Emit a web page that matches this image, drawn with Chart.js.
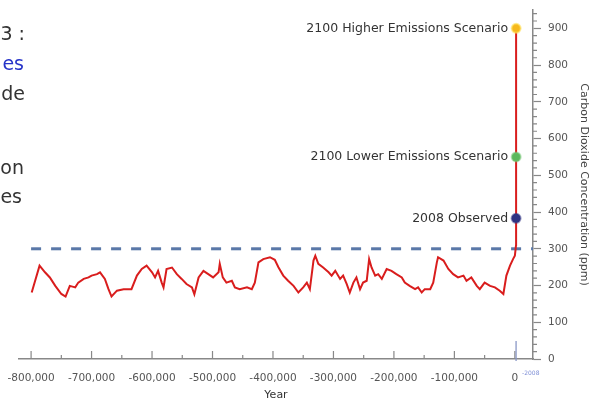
<!DOCTYPE html>
<html lang="en">
<head>
<meta charset="UTF-8">
<title>Carbon Dioxide Concentration</title>
<script src="https://cdn.jsdelivr.net/npm/chart.js"></script>
<style>
  html, body { margin: 0; padding: 0; background: #fff; overflow: hidden; }
  #wrap { position: relative; width: 590px; height: 402px; }
  #co2Chart { position: absolute; left: 0; top: 0; }
  .side { position: absolute; white-space: nowrap; font-family: "DejaVu Sans", sans-serif; font-size: 19px; line-height: 24px; color: #333; }
  .side.link { color: #2633c8; }
</style>
</head>
<body>
<div id="wrap">
  <canvas id="co2Chart" width="590" height="402"></canvas>
  <div class="side" style="top:21px; right:565px;">3 :</div>
  <div class="side link" style="top:51px; right:566px;">es</div>
  <div class="side" style="top:81px; right:565px;">de</div>
  <div class="side" style="top:155px; right:566px;">on</div>
  <div class="side" style="top:184px; right:568px;">es</div>
</div>
<script>
// ice core record (years relative to present, ppm), then the modern jump
const co2Years = [
  -799000, -786000, -777000, -769000, -760000, -750000, -743000, -736000, -727000, -722000,
  -713000, -705000, -700000, -691000, -686000, -678000, -672000, -667000, -658000, -647000,
  -634000, -625000, -617000, -609000, -600000, -595000, -590000, -584000, -581000, -576000,
  -567000, -559000, -551000, -543000, -534000, -530000, -523000, -515000, -507000, -499000,
  -490000, -488000, -483000, -477000, -468000, -463000, -455000, -443000, -435000, -430000,
  -424000, -416000, -405000, -397000, -391000, -383000, -375000, -366000, -358000, -350000,
  -344000, -339000, -333000, -330000, -325000, -317000, -308000, -303000, -297000, -289000,
  -284000, -278000, -273000, -267000, -262000, -256000, -251000, -245000, -241000, -237000,
  -231000, -226000, -220000, -212000, -204000, -196000, -187000, -182000, -174000, -165000,
  -160000, -154000, -149000, -140000, -135000, -129000, -127000, -118000, -110000, -102000,
  -94000, -85000, -80000, -72000, -63000, -58000, -50000, -41000, -33000, -25000,
  -19000, -14000, -8000, -3000, 0, 1950, 2008, 2100
];
const co2Values = [
  181, 254, 236, 222, 199, 177, 170, 199, 195, 208,
  218, 222, 227, 231, 236, 218, 190, 170, 186, 190,
  190, 227, 245, 254, 236, 222, 240, 208, 195, 245,
  249, 231, 218, 204, 195, 176, 222, 240, 231, 222,
  236, 259, 222, 208, 213, 195, 190, 195, 190, 208,
  263, 272, 277, 270, 250, 227, 213, 199, 181, 195,
  208, 190, 268, 281, 259, 249, 236, 227, 240, 218,
  227, 204, 181, 208, 222, 190, 208, 213, 272, 249,
  227, 231, 218, 245, 240, 231, 222, 208, 199, 190,
  195, 181, 190, 190, 208, 263, 277, 268, 245, 231,
  222, 227, 213, 222, 199, 190, 208, 199, 195, 186,
  177, 227, 254, 272, 281, 310, 383, 900
];

// "never above this line" level
const thresholdYears = [-800000, 30000];
const thresholdValues = [300, 300];

// highlighted points
const scenarioLabels = ['2008 Observed', '2100 Lower Emissions Scenario', '2100 Higher Emissions Scenario'];
const scenarioYears = [2008, 2100, 2100];
const scenarioValues = [383, 550, 900];
const scenarioColors = ['#2f3483', '#5cb85c', '#f6b81c'];
const scenarioHalos = ['rgba(47,52,131,0.5)', 'rgba(120,200,120,0.5)', 'rgba(255,225,90,0.6)'];

// axis ticks
const xTickValues = [-800000, -700000, -600000, -500000, -400000, -300000, -200000, -100000, 0];
const yTickValues = [0, 100, 200, 300, 400, 500, 600, 700, 800, 900];

const FONT = '"DejaVu Sans", sans-serif';

const toPoints = (xs, ys) => xs.map((x, i) => ({ x: x, y: ys[i] }));

// extra tick marks and the point captions
const decorations = {
    id: 'decorations',
    afterDraw(chart) {
        const ctx = chart.ctx;
        const x = chart.scales.x;
        const y = chart.scales.y;
        ctx.save();

        // x ticks point up into the plot
        ctx.strokeStyle = '#888';
        ctx.lineWidth = 1.2;
        ctx.beginPath();
        for (let v = -800000; v <= 0; v += 50000) {
            const px = x.getPixelForValue(v);
            const len = v % 100000 === 0 ? 8 : 4;
            ctx.moveTo(px, x.top);
            ctx.lineTo(px, x.top - len);
        }
        // y minor ticks
        for (let v = 20; v <= 940; v += 20) {
            if (v % 100 === 0) continue;
            const py = y.getPixelForValue(v);
            ctx.moveTo(y.left, py);
            ctx.lineTo(y.left + 4, py);
        }
        ctx.stroke();

        // 2008 marker under the zero label
        const mx = x.getPixelForValue(2008);
        ctx.strokeStyle = '#8a97c6';
        ctx.lineWidth = 1.3;
        ctx.beginPath();
        ctx.moveTo(mx, x.top - 18);
        ctx.lineTo(mx, x.top + 2);
        ctx.stroke();
        ctx.fillStyle = '#7f8fd6';
        ctx.font = '6px ' + FONT;
        ctx.textAlign = 'left';
        ctx.textBaseline = 'middle';
        ctx.fillText('-2008', mx + 6, x.top + 14);

        // captions left of the highlighted points
        const meta = chart.getDatasetMeta(2);
        ctx.fillStyle = '#333';
        ctx.font = '12.5px ' + FONT;
        ctx.textAlign = 'right';
        meta.data.forEach((pt, i) => {
            ctx.fillText(scenarioLabels[i], pt.x - 8, pt.y);
        });
        ctx.restore();
    }
};

new Chart(document.getElementById('co2Chart').getContext('2d'), {
    type: 'line',
    data: {
        datasets: [
            {
                label: 'CO2',
                data: toPoints(co2Years, co2Values),
                borderColor: '#d91d1d',
                borderWidth: 2,
                pointRadius: 0,
                tension: 0,
                order: 1
            },
            {
                label: 'Threshold',
                data: toPoints(thresholdYears, thresholdValues),
                borderColor: '#5a78a8',
                borderWidth: 3,
                borderDash: [10, 10],
                pointRadius: 0,
                order: 2
            },
            {
                label: 'Scenarios',
                data: toPoints(scenarioYears, scenarioValues),
                showLine: false,
                pointRadius: 4.5,
                pointBackgroundColor: scenarioColors,
                pointBorderColor: scenarioHalos,
                pointBorderWidth: 2,
                order: 0
            }
        ]
    },
    options: {
        responsive: false,
        animation: false,
        layout: { padding: { left: 19, top: 10, right: 0, bottom: 0 } },
        plugins: { legend: { display: false }, tooltip: { enabled: false } },
        scales: {
            x: {
                type: 'linear',
                min: -820000,
                max: 30000,
                afterBuildTicks: s => { s.ticks = xTickValues.map(v => ({ value: v })); },
                afterFit: s => { s.height = 43; },
                border: { display: true, color: '#888', width: 1.5 },
                grid: { display: false },
                ticks: {
                    padding: 5,
                    maxRotation: 0,
                    autoSkip: false,
                    color: '#555',
                    font: { family: FONT, size: 10.5 },
                    callback: v => v.toLocaleString('en-US')
                },
                title: { display: true, text: 'Year', color: '#333', font: { family: FONT, size: 11 }, padding: 0 }
            },
            y: {
                position: 'right',
                min: 0,
                max: 950,
                afterBuildTicks: s => { s.ticks = yTickValues.map(v => ({ value: v })); },
                afterFit: s => { s.width = 57; s.paddingTop = 0; s.paddingBottom = 0; },
                border: { display: true, color: '#888', width: 1.5 },
                grid: { drawOnChartArea: false, drawTicks: true, tickLength: 8, tickColor: '#888', tickWidth: 1.2 },
                ticks: {
                    padding: 7,
                    color: '#555',
                    font: { family: FONT, size: 10.5 }
                },
                title: { display: true, text: 'Carbon Dioxide Concentration (ppm)', color: '#444', font: { family: FONT, size: 11 }, padding: 0 }
            }
        }
    },
    plugins: [decorations]
});
</script>
</body>
</html>
